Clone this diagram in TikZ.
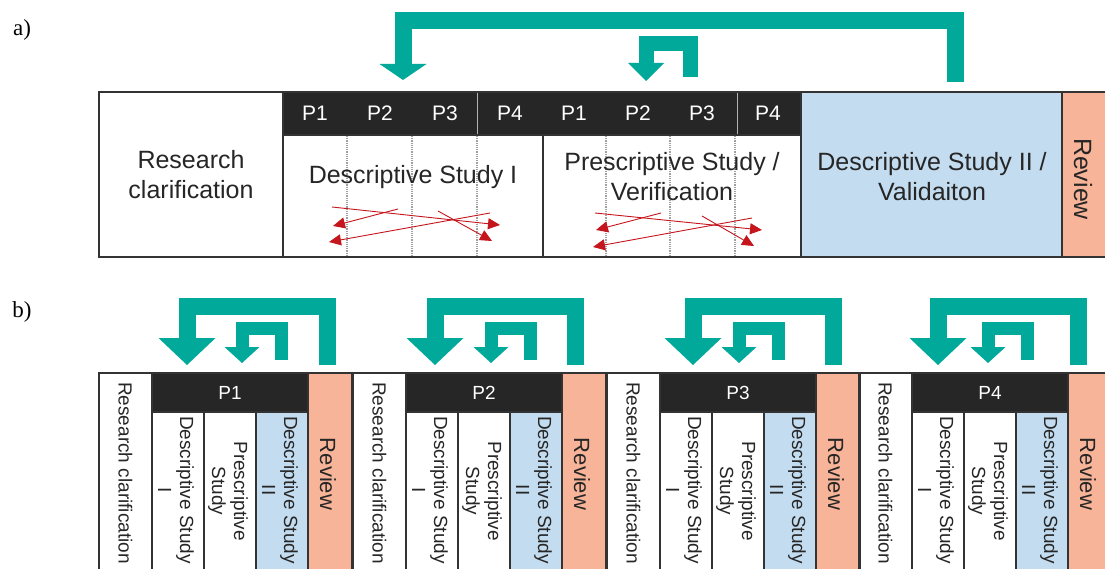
\documentclass[tikz,border=0pt]{standalone}
\usepackage{fontspec}
\setmainfont{Liberation Sans}
\newfontfamily\serifA{Liberation Serif}
\usetikzlibrary{arrows.meta,fit}
\definecolor{teal1}{HTML}{00A99A}
\definecolor{frame}{HTML}{333333}
\definecolor{hdr}{HTML}{262626}
\definecolor{blue1}{HTML}{C3DCEF}
\definecolor{orange1}{HTML}{F8B498}
\definecolor{red1}{HTML}{C4161C}
\definecolor{ink}{HTML}{262626}
\begin{document}
\begin{tikzpicture}[x=1pt,y=-1pt,
  cell/.style={draw=frame, line width=1.6pt, inner sep=0pt, outer sep=0pt},
  hdrcell/.style={cell, fill=hdr},
  bluecell/.style={cell, fill=blue1},
  revcell/.style={cell, fill=orange1},
  txta/.style={font=\fontsize{25}{30}\selectfont, text=ink, align=center, inner sep=0pt},
  hdra/.style={font=\fontsize{21}{24}\selectfont, text=white, inner sep=0pt},
  txtb/.style={font=\fontsize{19}{22}\selectfont, text=ink, align=center, rotate=-90, inner sep=0pt},
  revb/.style={font=\fontsize{22}{26}\selectfont, text=ink, rotate=-90, inner sep=0pt},
  hdrb/.style={font=\fontsize{19}{22}\selectfont, text=white, inner sep=0pt},
  gridline/.style={draw=gray!75, densely dotted, line width=1.2pt},
  hdrline/.style={draw=gray!60, line width=0.8pt},
  fb/.style={draw=teal1, line join=miter, line cap=butt},
  redarr/.style={draw=red1, line width=0.9pt, -{Triangle[width=11pt,length=12pt]}},
  tag/.style={font=\serifA\fontsize{23}{27}\selectfont, inner sep=0pt}
]
\useasboundingbox (0,0) rectangle (1105,569);
\fill[white] (0,0) rectangle (1105,569);
\clip (0,0) rectangle (1105,569);

% ---------- labels ----------
\node[tag] (la) at (22,30) {a)};
\node[tag] (lb) at (22,312) {b)};

% ---------- part a: cells ----------
\node[cell, fit={(99,92) (283,257)}] (rcA) {};
\node[hdrcell, fit={(283,92) (801,135)}] (hdrA) {};
\node[cell, fit={(283,135) (543,257)}] (dsiA) {};
\node[cell, fit={(543,135) (801,257)}] (psA) {};
\node[bluecell, fit={(801,92) (1062,257)}] (dsiiA) {};
\node[revcell, fit={(1062,92) (1110,257)}] (revA) {};

% dotted dividers
\foreach \xx in {347,412,477,606,670,735}{
  \draw[gridline] (\xx,136) -- (\xx,256);
}
\draw[hdrline] (477,93) -- (477,134);
\draw[hdrline] (737,93) -- (737,134);

% header labels
\foreach \xx/\lab/\n in {315/P1/1,380/P2/2,445/P3/3,510/P4/4,574/P1/5,638/P2/6,702/P3/7,768/P4/8}{
  \node[hdra] (hA\n) at (\xx,113) {\lab};
}

% texts
\node[txta] (rcAt) at (191,175) {Research\\clarification};
\node[txta] (dsiAt) at (413,177) {Descriptive Study I};
\node[txta] (psAt) at (672,177) {Prescriptive Study /\\Verification};
\node[txta] (dsiiAt) at (932,177) {Descriptive Study II /\\Validaiton};
\node[txta, rotate=-90] (revAt) at (1083,179) {Review};

% red arrows
\foreach \n/\ax/\ay/\bx/\by in {
  1/332/207/500/225, 2/398/209/333/226, 3/438/211/492/241, 4/490/213/329/242,
  5/595/213/762/230, 6/661/213/596/230, 7/702/216/754/246, 8/752/218/593/247}{
  \coordinate (rs\n) at (\ax,\ay);
  \coordinate (re\n) at (\bx,\by);
  \draw[redarr] (rs\n) -- (re\n);
}

% teal feedback arrows (a)
\coordinate (fbAs) at (955,82);
\coordinate (fbAe) at (403,80);
\draw[fb, line width=17pt, -{Triangle[width=47pt,length=16pt,line width=0pt]}]
  (fbAs) -- (955,20.5) -| (fbAe);
\coordinate (fbA2s) at (690,77);
\coordinate (fbA2e) at (646,81);
\draw[fb, line width=15pt, -{Triangle[width=36pt,length=18pt,line width=0pt]}]
  (fbA2s) -- (690,43.5) -| (fbA2e);

% ---------- part b ----------
\foreach \g/\off/\boff/\soff/\lab in {1/0/0/0/P1, 2/254/248/249/P2, 3/508/506/497/P3, 4/760/751/746/P4}{
  \begin{scope}[xshift=\off pt]
    \node[cell, fit={(99,373) (152,580)}] (rcB\g) {};
    \node[hdrcell, fit={(152,373) (308,412)}] (hdrB\g) {};
    \node[cell, fit={(152,412) (204,580)}] (dsiB\g) {};
    \node[cell, fit={(204,412) (256,580)}] (psB\g) {};
    \node[bluecell, fit={(256,412) (308,580)}] (dsiiB\g) {};
    \node[revcell, fit={(308,373) (352,580)}] (revB\g) {};
    \node[hdrb] (hB\g) at (230,393) {\lab};
    \node[txtb] (rcBt\g) at (125.5,473) {Research clarification};
    \node[txtb] (dsiBt\g) at (176,490) {Descriptive Study\\I};
    \node[txtb] (psBt\g) at (228,491) {Prescriptive\\Study};
    \node[txtb] (dsiiBt\g) at (280,490) {Descriptive Study\\II};
    \node[revb] (revBt\g) at (328,474) {Review};
  \end{scope}
  \begin{scope}[xshift=\boff pt]
    \coordinate (fbB\g s) at (327.5,365);
    \coordinate (fbB\g e) at (187,365);
    \draw[fb, line width=17pt, -{Triangle[width=57pt,length=27pt,line width=0pt]}]
      (fbB\g s) -- (327.5,306) -| (fbB\g e);
  \end{scope}
  \begin{scope}[xshift=\soff pt]
    \coordinate (fbC\g s) at (281.5,360);
    \coordinate (fbC\g e) at (242,363);
    \draw[fb, line width=13pt, -{Triangle[width=35pt,length=16pt,line width=0pt]}]
      (fbC\g s) -- (281.5,328.5) -| (fbC\g e);
  \end{scope}
}
\end{tikzpicture}
\end{document}
